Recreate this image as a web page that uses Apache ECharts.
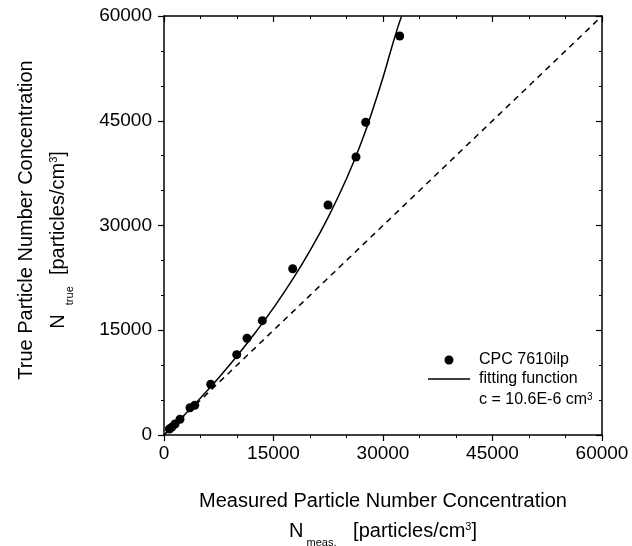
<!DOCTYPE html>
<html>
<head>
	<meta charset="UTF-8">
	<script src="https://cdn.jsdelivr.net/npm/echarts@6/dist/echarts.min.js"></script>
	<title></title>
</head>
<body style="margin:0;background:#fff;">
	<div id="main" style="height:546px;width:632px;"></div>
	<script type="text/javascript">
        // measured points (N meas., N true)
        var measX = [730, 1050, 1510, 2190, 3560, 4210, 6400, 9960, 11370, 13470, 17630, 22470, 26300, 27630, 32290];
        var trueY = [860, 1100, 1580, 2250, 3910, 4250, 7260, 11500, 13850, 16370, 23810, 32940, 39810, 44780, 57140];
        // fitting curve
        var fitX = [0, 2500, 5000, 7500, 10000, 12500, 15000, 17500, 20000, 22500, 25000, 27000, 28500, 30000, 31000, 32000, 32560];
        var fitY = [0, 2570, 5300, 8200, 11300, 14650, 18200, 22100, 26400, 31200, 36700, 41800, 46300, 51200, 54800, 58300, 60000];
        // 1:1 line
        var idLine = [0, 60000];
        var axisTicks = [0, 15000, 30000, 45000, 60000];

        var font = 'Liberation Sans, Arial, Helvetica, sans-serif';
        var myChart = echarts.init(document.getElementById('main'));

        function pairs(a, b) {
            var out = [];
            for (var i = 0; i < a.length; i++) out.push([a[i], b[i]]);
            return out;
        }

        function axis(pos, showLabel, inside) {
            return {
                type: 'value', position: pos,
                min: axisTicks[0], max: axisTicks[axisTicks.length - 1], interval: 15000,
                axisLine: {show: true, onZero: false, lineStyle: {color: '#000', width: 1.5}},
                axisTick: {show: true, inside: inside, length: 6, lineStyle: {color: '#000', width: 1.2}},
                minorTick: {show: true, splitNumber: 3, length: 3, lineStyle: {color: '#000', width: 1}},
                axisLabel: {
                    show: showLabel, color: '#000', fontSize: 19, fontFamily: font,
                    margin: pos == 'left' ? 12 : 9,
                    formatter: function (v) { return String(v); }
                },
                splitLine: {show: false}
            };
        }

        var sup = {fontSize: 11, fontFamily: font, fill: '#000', verticalAlign: 'top'};
        var sub = {fontSize: 11, fontFamily: font, fill: '#000', verticalAlign: 'bottom', padding: [0, 0, -7, 0]};
        var big = {fontSize: 20, fontFamily: font, fill: '#000'};

        var option = {
            animation: false,
            grid: {left: 164, right: 30, top: 16, bottom: 111},
            xAxis: [axis('bottom', true, false), axis('top', false, true)],
            yAxis: [axis('left', true, false), axis('right', false, true)],
            legend: {
                orient: 'vertical', left: 423, top: 347,
                itemWidth: 42, itemHeight: 9, itemGap: 3,
                textStyle: {fontSize: 16, fontFamily: font, color: '#000', padding: [0, 0, 0, 4]},
                data: [
                    {name: 'CPC 7610ilp', icon: 'circle'},
                    {name: 'fitting function', icon: 'path://M0,0 L42,0 L42,1.4 L0,1.4 Z'}
                ]
            },
            graphic: [
                {
                    type: 'text', x: 383, y: 501,
                    style: {text: 'Measured Particle Number Concentration', fontSize: 20, fontFamily: font, fill: '#000', align: 'center', verticalAlign: 'middle'}
                },
                {
                    type: 'text', x: 383, y: 531,
                    style: {
                        text: '{n|N}{s| meas.}{n|   [particles/cm}{p|3}{n|]}',
                        align: 'center', verticalAlign: 'middle',
                        rich: {n: big, s: sub, p: sup}
                    }
                },
                {
                    type: 'text', x: 26, y: 220, rotation: Math.PI / 2,
                    style: {text: 'True Particle Number Concentration', fontSize: 20, fontFamily: font, fill: '#000', align: 'center', verticalAlign: 'middle'}
                },
                {
                    type: 'text', x: 58, y: 240, rotation: Math.PI / 2,
                    style: {
                        text: '{n|N}{s|   true}{n|  [particles/cm}{p|3}{n|]}',
                        align: 'center', verticalAlign: 'middle',
                        rich: {n: big, s: sub, p: sup}
                    }
                },
                {
                    type: 'text', x: 479, y: 400,
                    style: {
                        text: '{n|c = 10.6E-6 cm}{p|3}',
                        verticalAlign: 'middle',
                        rich: {
                            n: {fontSize: 16, fontFamily: font, fill: '#000'},
                            p: {fontSize: 10, fontFamily: font, fill: '#000', verticalAlign: 'top'}
                        }
                    }
                }
            ],
            series: [
                {
                    name: '1:1', type: 'line', symbol: 'none',
                    lineStyle: {color: '#000', width: 1.5, type: [6, 5]},
                    data: [[idLine[0], idLine[0]], [idLine[1], idLine[1]]]
                },
                {
                    name: 'fitting function', type: 'line', symbol: 'none', smooth: true,
                    lineStyle: {color: '#000', width: 1.5},
                    itemStyle: {color: '#000'},
                    data: pairs(fitX, fitY)
                },
                {
                    name: 'CPC 7610ilp', type: 'scatter', symbol: 'circle', symbolSize: 9,
                    itemStyle: {color: '#000', opacity: 1},
                    data: pairs(measX, trueY)
                }
            ]
        };
        myChart.setOption(option);
	</script>
</body>
</html>
